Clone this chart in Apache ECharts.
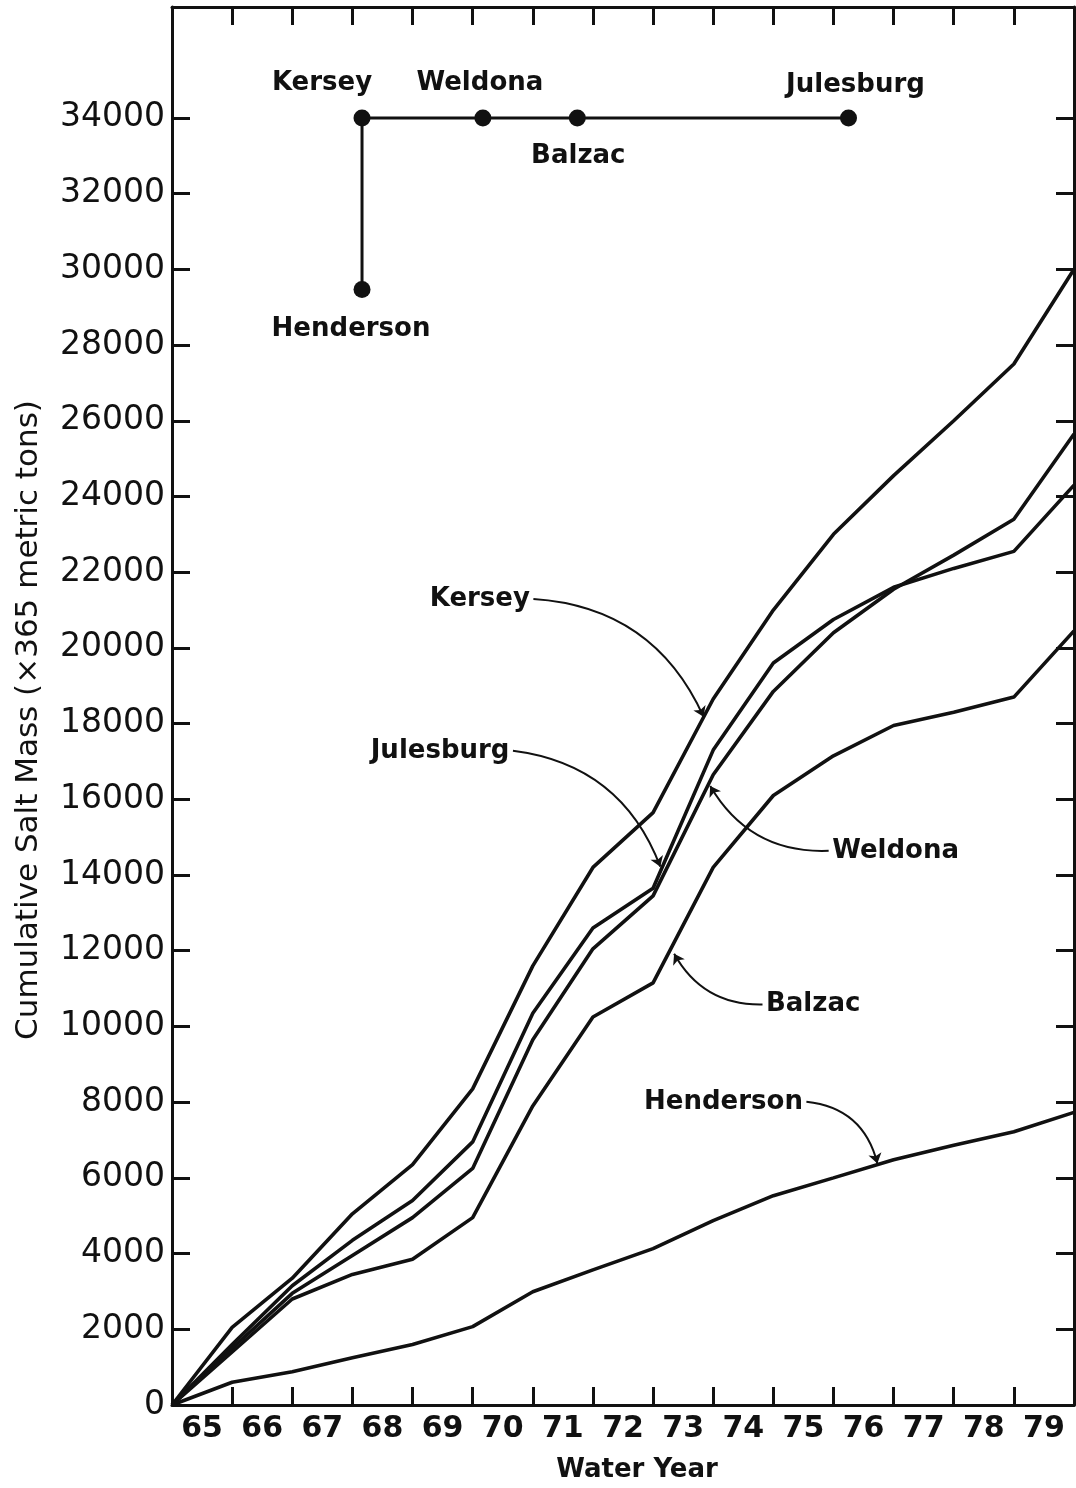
<!DOCTYPE html>
<html><head><meta charset="utf-8">
<script src="https://cdn.jsdelivr.net/npm/echarts@6/dist/echarts.min.js"></script>
<style>html,body{margin:0;padding:0;background:#fff}#c{width:1076px;height:1488px}</style>
</head><body><div id="c"></div>
<script>
// ---- data ----
const yearLabels = ['65','66','67','68','69','70','71','72','73','74','75','76','77','78','79'];
const boundaryIdx = [0,1,2,3,4,5,6,7,8,9,10,11,12,13,14,15];
const kersey    = [0, 2050, 3350, 5050, 6350, 8350, 11600, 14200, 15650, 18650, 21000, 23000, 24550, 26000, 27500, 30000];
const julesburg = [0, 1600, 3150, 4350, 5400, 6950, 10350, 12600, 13650, 17300, 19600, 20750, 21600, 22100, 22550, 24300];
const weldona   = [0, 1500, 2950, 3950, 4950, 6250, 9650, 12050, 13450, 16650, 18850, 20400, 21550, 22450, 23400, 25650];
const balzac    = [0, 1400, 2800, 3450, 3850, 4950, 7900, 10250, 11150, 14200, 16100, 17150, 17950, 18300, 18700, 20450];
const henderson = [0, 600, 880, 1250, 1600, 2070, 2990, 3570, 4130, 4870, 5530, 6000, 6480, 6860, 7220, 7730];
const yTicks = [0,2000,4000,6000,8000,10000,12000,14000,16000,18000,20000,22000,24000,26000,28000,30000,32000,34000];

// station schematic (axis units)
const schemNames = ['Kersey','Weldona','Balzac','Julesburg','Henderson'];
const schemX = [3.16, 5.17, 6.74, 11.25, 3.16];
const schemY = [34000, 34000, 34000, 34000, 29470];

// annotation callouts (axis units): label anchor -> arrow tip
const noteNames = ['Kersey','Julesburg','Weldona','Balzac','Henderson'];
const noteFrom = [[6.01,21290],[5.67,17280],[10.92,14640],[9.82,10580],[10.55,8010]];
const noteTo   = [[8.84,18180],[8.12,14220],[8.95,16350],[8.35,11920],[11.73,6380]];
const noteSide = ['left','left','right','right','left'];
const noteCurve = [0.3,0.3,0.3,0.3,0.35];

// ---- chart ----
const FONT = 'DejaVu Sans';
const INK = '#111';
const labelPos = yearLabels.map((_, i) => boundaryIdx[i] + 0.5);
const pair = a => a.map((v,i)=>[boundaryIdx[i], v]);
const mkLine = (name, arr) => ({
  name, type:'line', data: pair(arr), xAxisIndex:0, yAxisIndex:0,
  showSymbol:false, symbol:'none', lineStyle:{color:INK, width:3.6}, z:3, silent:true
});
const labelOffsets = {
  'Kersey':[-40,-35], 'Weldona':[-3,-35], 'Balzac':[1,38], 'Julesburg':[7,-33], 'Henderson':[-11,40]
};
const frameLine = {show:true, onZero:false, lineStyle:{color:INK, width:3}};
const innerTick = vals => ({show:true, inside:true, length:18, customValues:vals, lineStyle:{color:INK, width:3}});

const chart = echarts.init(document.getElementById('c'), null, {renderer:'canvas'});
chart.setOption({
  animation:false,
  backgroundColor:'#fff',
  grid:{left:172, right:2, top:7, bottom:81, containLabel:false},
  xAxis:[
    {type:'value', min:0, max:15, position:'bottom',
     axisLine:frameLine, axisTick:innerTick(boundaryIdx),
     axisLabel:{show:true, customValues:labelPos, formatter:v => yearLabels[Math.floor(v)],
                color:INK, fontFamily:FONT, fontSize:30, fontWeight:'bold', margin:9},
     splitLine:{show:false},
     name:'Water Year', nameLocation:'middle', nameGap:52,
     nameTextStyle:{color:INK, fontFamily:FONT, fontSize:26, fontWeight:'bold', padding:[0,0,0,28]}},
    {type:'value', min:0, max:15, position:'top',
     axisLine:frameLine, axisTick:innerTick(boundaryIdx),
     axisLabel:{show:false}, splitLine:{show:false}}
  ],
  yAxis:[
    {type:'value', min:0, max:36930, position:'left',
     axisLine:frameLine, axisTick:innerTick(yTicks),
     axisLabel:{show:true, customValues:yTicks, formatter:v => String(v),
                color:INK, fontFamily:FONT, fontSize:33, margin:7},
     splitLine:{show:false},
     name:'Cumulative Salt Mass (×365 metric tons)', nameLocation:'middle', nameGap:128,
     nameTextStyle:{color:INK, fontFamily:FONT, fontSize:31, padding:[0,28,0,0]}},
    {type:'value', min:0, max:36930, position:'right',
     axisLine:frameLine, axisTick:innerTick(yTicks),
     axisLabel:{show:false}, splitLine:{show:false}}
  ],
  series:[
    mkLine('Kersey', kersey),
    mkLine('Julesburg', julesburg),
    mkLine('Weldona', weldona),
    mkLine('Balzac', balzac),
    mkLine('Henderson', henderson),
    // schematic connecting lines
    {type:'line', xAxisIndex:0, yAxisIndex:0, symbol:'none', silent:true,
     data:[[schemX[4], schemY[4]], [schemX[0], schemY[0]], [schemX[3], schemY[3]]],
     lineStyle:{color:INK, width:3}, z:4},
    // schematic stations
    {type:'scatter', xAxisIndex:0, yAxisIndex:0, symbol:'circle', symbolSize:17, silent:true,
     itemStyle:{color:INK, opacity:1}, z:5,
     data: schemNames.map((n,i)=>({name:n, value:[schemX[i], schemY[i]],
       label:{show:true, position:'inside', offset:labelOffsets[n], formatter:n,
              color:INK, fontFamily:FONT, fontSize:26, fontWeight:'bold'}}))},
    // callout arrows
    {type:'lines', coordinateSystem:'cartesian2d', xAxisIndex:0, yAxisIndex:0, silent:true,
     symbol:['none','arrow'], symbolSize:10, z:6,
     data: noteFrom.map((f,i)=>({coords:[f, noteTo[i]], lineStyle:{curveness:noteCurve[i]}})),
     lineStyle:{color:INK, width:2, opacity:1}},
    // callout labels
    {type:'scatter', xAxisIndex:0, yAxisIndex:0, symbolSize:1, silent:true, z:7,
     itemStyle:{color:'rgba(0,0,0,0)', opacity:1},
     data: noteNames.map((n,i)=>({name:n, value:noteFrom[i],
       label:{show:true, position:noteSide[i], distance:3, formatter:n,
              color:INK, fontFamily:FONT, fontSize:26, fontWeight:'bold'}}))}
  ]
});
</script>
</body></html>
